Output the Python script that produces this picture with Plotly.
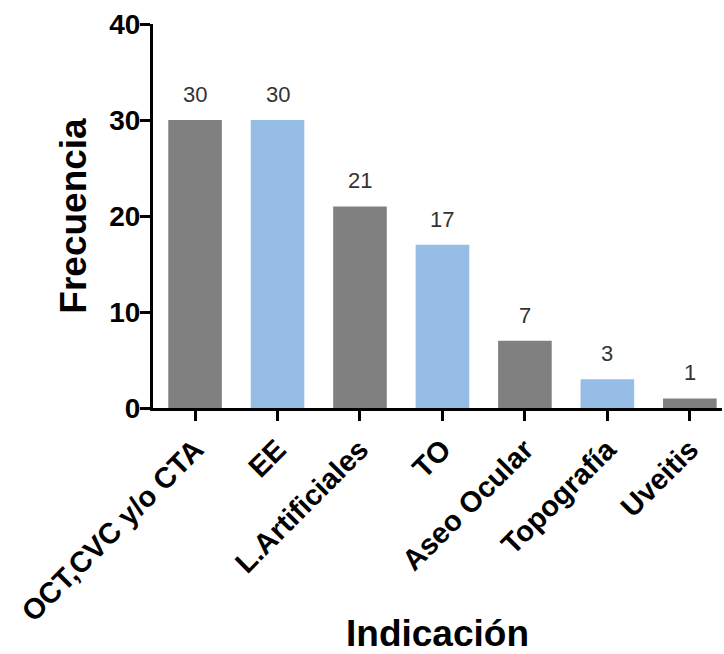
import plotly.graph_objects as go

categories = ["OCT,CVC y/o CTA", "EE", "L.Artificiales", "TO", "Aseo Ocular", "Topografía", "Uveitis"]
frecuencia = [30, 30, 21, 17, 7, 3, 1]
bar_colors = ["#808080", "#95bde6", "#808080", "#95bde6", "#808080", "#95bde6", "#808080"]
y_ticks = [0, 10, 20, 30, 40]

font_family = "Liberation Sans, Arial, sans-serif"

fig = go.Figure()
fig.add_trace(go.Bar(
    x=categories,
    y=frecuencia,
    marker=dict(color=bar_colors, line=dict(width=0)),
    width=0.65,
    showlegend=False,
))

# value labels above each bar
for cat, val in zip(categories, frecuencia):
    fig.add_annotation(
        x=cat, y=val, text=str(val), showarrow=False,
        yanchor="bottom", yshift=11,
        font=dict(family=font_family, size=22, color="#333333"),
    )

# x-axis title placed below the rotated category labels
fig.add_annotation(
    text="<b>Indicación</b>", xref="paper", yref="paper",
    x=0.5, y=-0.588, xanchor="center", yanchor="middle", showarrow=False,
    font=dict(family=font_family, size=37, color="black"),
)

fig.update_layout(
    width=724, height=654,
    margin=dict(l=153, r=2, t=24, b=246),
    paper_bgcolor="white", plot_bgcolor="white",
    bargap=0.35,
    font=dict(family=font_family, color="black"),
)

fig.update_xaxes(
    range=[-0.51, 6.39],
    showline=True, linecolor="black", linewidth=3,
    ticks="outside", ticklen=10, tickwidth=3, tickcolor="black",
    tickangle=-45,
    tickfont=dict(family=font_family, size=29, color="black", weight="bold"),
    showgrid=False, zeroline=False,
)
fig.update_yaxes(
    range=[0, 40],
    tickvals=y_ticks,
    showline=True, linecolor="black", linewidth=3,
    ticks="outside", ticklen=10, tickwidth=3, tickcolor="black",
    ticklabelstandoff=-6,
    tickfont=dict(family=font_family, size=28, color="black", weight="bold"),
    showgrid=False, zeroline=False,
    title=dict(text="<b>Frecuencia</b>", font=dict(family=font_family, size=37, color="black"), standoff=12),
)

fig.write_html("out.html")
